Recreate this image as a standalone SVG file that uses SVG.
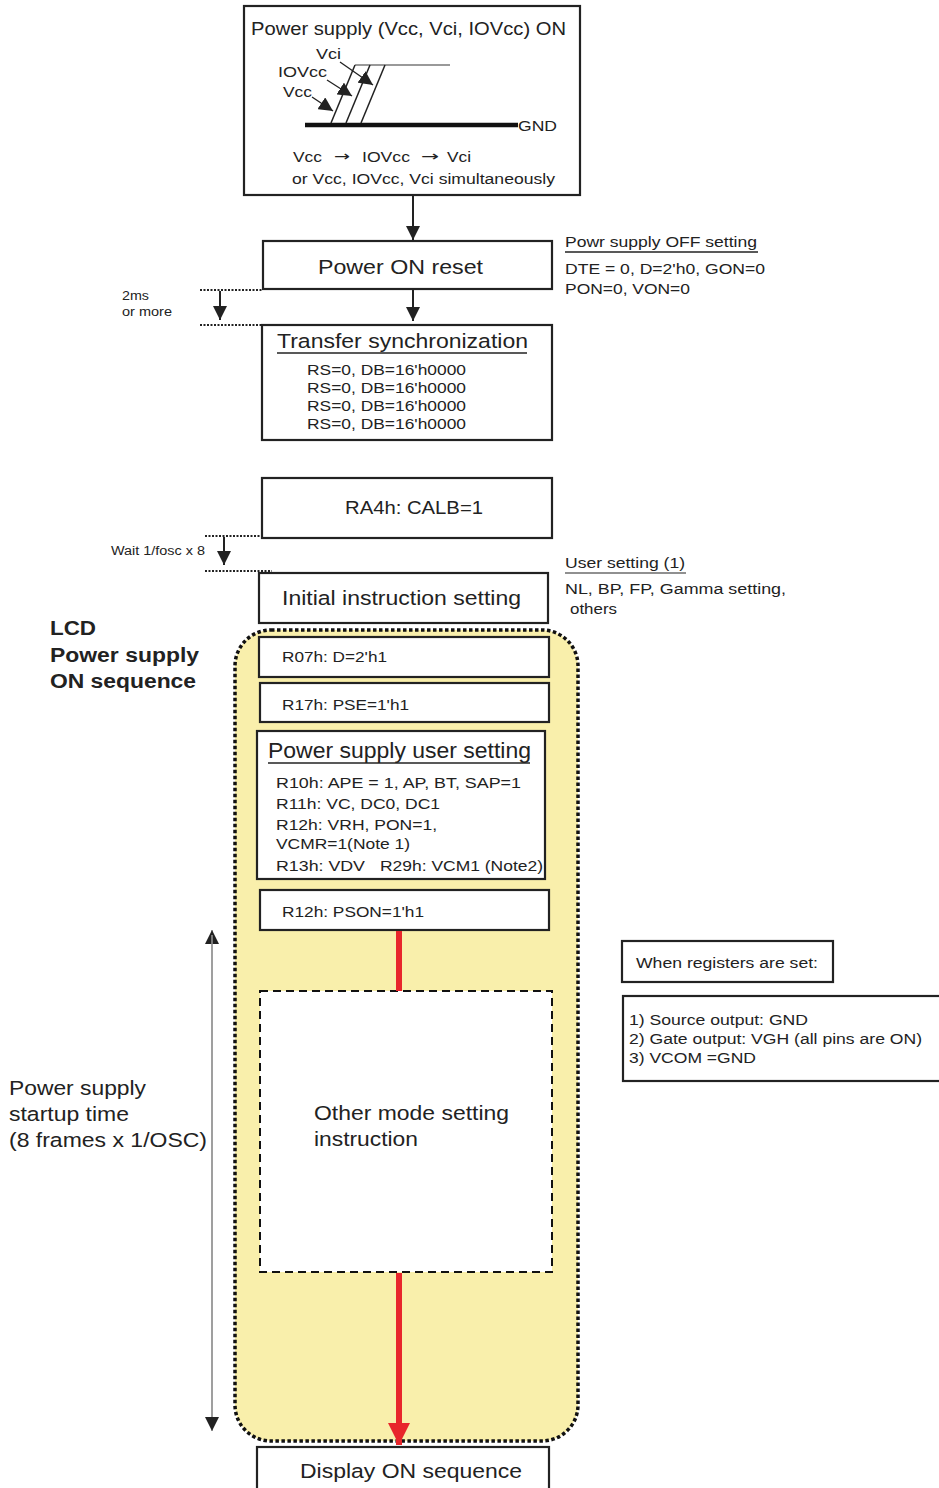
<svg xmlns="http://www.w3.org/2000/svg" width="939" height="1488" viewBox="0 0 939 1488">
<defs>
<style>
text{font-family:"Liberation Sans",Arial,sans-serif;fill:#222}
.box{fill:#fff;stroke:#222;stroke-width:2.2}
.t15{font-size:15.5px}
.t12{font-size:12px}
.t17{font-size:17.5px}
.t20{font-size:20.5px}
.arr{font-family:"DejaVu Sans",sans-serif;font-size:14px}
.dot{stroke:#222;stroke-width:2;stroke-dasharray:2 1.5;fill:none}
.con{stroke:#222;stroke-width:2;fill:none}
</style>
<marker id="ahb" viewBox="0 0 10 10" refX="10" refY="5" markerWidth="14" markerHeight="14" orient="auto" markerUnits="userSpaceOnUse">
<path d="M0,0 L10,5 L0,10 z" fill="#222"/>
</marker>
<marker id="ahr" viewBox="0 0 10 10" refX="10" refY="5" markerWidth="22" markerHeight="22" orient="auto" markerUnits="userSpaceOnUse">
<path d="M0,0 L10,5 L0,10 z" fill="#e8262b"/>
</marker>
</defs>

<g id="lcd-region">
<rect x="235" y="630" width="343" height="811" rx="36" fill="#f9efab" stroke="#111" stroke-width="3.5" stroke-dasharray="3.5 2.5"/>
</g>

<g id="power-supply-on">
<rect class="box" x="244" y="6" width="336" height="189"/>
<text class="t17" x="251" y="35" textLength="315" lengthAdjust="spacingAndGlyphs">Power supply (Vcc, Vci, IOVcc) ON</text>
<line x1="355" y1="65" x2="450" y2="65" stroke="#777" stroke-width="1.5"/>
<line x1="305" y1="125" x2="518" y2="125" stroke="#111" stroke-width="4.5"/>
<line x1="331" y1="123" x2="355" y2="65" stroke="#222" stroke-width="1.5"/>
<line x1="346" y1="123" x2="370" y2="65" stroke="#222" stroke-width="1.5"/>
<line x1="361" y1="123" x2="385" y2="65" stroke="#222" stroke-width="1.5"/>
<text class="t15" x="518" y="131" textLength="39" lengthAdjust="spacingAndGlyphs">GND</text>
<text class="t15" x="316" y="59" textLength="25" lengthAdjust="spacingAndGlyphs">Vci</text>
<text class="t15" x="278" y="77" textLength="49" lengthAdjust="spacingAndGlyphs">IOVcc</text>
<text class="t15" x="283" y="97" textLength="29" lengthAdjust="spacingAndGlyphs">Vcc</text>
<line x1="312" y1="97" x2="333" y2="111" stroke="#222" stroke-width="1.3" marker-end="url(#ahb)"/>
<line x1="327" y1="80" x2="352" y2="96" stroke="#222" stroke-width="1.3" marker-end="url(#ahb)"/>
<line x1="340" y1="62" x2="373" y2="85" stroke="#222" stroke-width="1.3" marker-end="url(#ahb)"/>
<text class="t15" x="293" y="162" textLength="29" lengthAdjust="spacingAndGlyphs">Vcc</text>
<text class="arr" x="334" y="161" textLength="16" lengthAdjust="spacingAndGlyphs">→</text>
<text class="t15" x="362" y="162" textLength="48" lengthAdjust="spacingAndGlyphs">IOVcc</text>
<text class="arr" x="421" y="161" textLength="18" lengthAdjust="spacingAndGlyphs">→</text>
<text class="t15" x="447" y="162" textLength="24" lengthAdjust="spacingAndGlyphs">Vci</text>
<text class="t15" x="292" y="184" textLength="263" lengthAdjust="spacingAndGlyphs">or Vcc, IOVcc, Vci simultaneously</text>
</g>

<g id="power-on-reset">
<rect class="box" x="263" y="241" width="289" height="48"/>
<text class="t20" x="318" y="274" textLength="165" lengthAdjust="spacingAndGlyphs">Power ON reset</text>
</g>

<g id="off-setting-note">
<text class="t15" x="565" y="247" textLength="192" lengthAdjust="spacingAndGlyphs">Powr supply OFF setting</text>
<line x1="565" y1="252" x2="758" y2="252" stroke="#222" stroke-width="1.5"/>
<text class="t15" x="565" y="274" textLength="200" lengthAdjust="spacingAndGlyphs">DTE = 0, D=2'h0, GON=0</text>
<text class="t15" x="565" y="294" textLength="125" lengthAdjust="spacingAndGlyphs">PON=0, VON=0</text>
</g>

<g id="wait-2ms">
<line class="dot" x1="200" y1="290" x2="263" y2="290"/>
<line class="dot" x1="200" y1="325" x2="262" y2="325"/>
<text class="t12" x="122" y="300" textLength="27" lengthAdjust="spacingAndGlyphs">2ms</text>
<text class="t12" x="122" y="316" textLength="50" lengthAdjust="spacingAndGlyphs">or more</text>
</g>

<g id="transfer-sync">
<rect class="box" x="262" y="325" width="290" height="115"/>
<text class="t20" x="277" y="348" textLength="251" lengthAdjust="spacingAndGlyphs">Transfer synchronization</text>
<line x1="277" y1="353" x2="527" y2="353" stroke="#222" stroke-width="1.5"/>
<text class="t15" x="307" y="375" textLength="159" lengthAdjust="spacingAndGlyphs">RS=0, DB=16'h0000</text>
<text class="t15" x="307" y="393" textLength="159" lengthAdjust="spacingAndGlyphs">RS=0, DB=16'h0000</text>
<text class="t15" x="307" y="411" textLength="159" lengthAdjust="spacingAndGlyphs">RS=0, DB=16'h0000</text>
<text class="t15" x="307" y="429" textLength="159" lengthAdjust="spacingAndGlyphs">RS=0, DB=16'h0000</text>
</g>

<g id="ra4h">
<rect class="box" x="262" y="478" width="290" height="60"/>
<text class="t17" x="345" y="514" textLength="138" lengthAdjust="spacingAndGlyphs">RA4h: CALB=1</text>
</g>

<g id="wait-fosc">
<line class="dot" x1="205" y1="536" x2="262" y2="536"/>
<line class="dot" x1="205" y1="571" x2="272" y2="571"/>
<text class="t12" x="111" y="555" textLength="94" lengthAdjust="spacingAndGlyphs">Wait 1/fosc x 8</text>
</g>

<g id="initial-instruction">
<rect class="box" x="259" y="573" width="289" height="50"/>
<text class="t20" x="282" y="605" textLength="239" lengthAdjust="spacingAndGlyphs">Initial instruction setting</text>
</g>

<g id="user-setting-note">
<text class="t15" x="565" y="568" textLength="120" lengthAdjust="spacingAndGlyphs">User setting (1)</text>
<line x1="565" y1="573" x2="686" y2="573" stroke="#222" stroke-width="1.2"/>
<text class="t15" x="565" y="594" textLength="221" lengthAdjust="spacingAndGlyphs">NL, BP, FP, Gamma setting,</text>
<text class="t15" x="570" y="614" textLength="47" lengthAdjust="spacingAndGlyphs">others</text>
</g>

<g id="lcd-label">
<text x="50" y="635" font-size="20" font-weight="bold" textLength="46" lengthAdjust="spacingAndGlyphs">LCD</text>
<text x="50" y="662" font-size="20" font-weight="bold" textLength="149" lengthAdjust="spacingAndGlyphs">Power supply</text>
<text x="50" y="688" font-size="20" font-weight="bold" textLength="146" lengthAdjust="spacingAndGlyphs">ON sequence</text>
</g>

<g id="r07h">
<rect class="box" x="259" y="637" width="290" height="40"/>
<text class="t15" x="282" y="662" textLength="105" lengthAdjust="spacingAndGlyphs">R07h: D=2'h1</text>
</g>

<g id="r17h">
<rect class="box" x="260" y="683" width="289" height="39"/>
<text class="t15" x="282" y="710" textLength="127" lengthAdjust="spacingAndGlyphs">R17h: PSE=1'h1</text>
</g>

<g id="power-user-setting">
<rect class="box" x="257" y="731" width="288" height="148"/>
<text x="268" y="758" font-size="21.5" textLength="263" lengthAdjust="spacingAndGlyphs">Power supply user setting</text>
<line x1="268" y1="763" x2="530" y2="763" stroke="#222" stroke-width="1.5"/>
<text class="t15" x="276" y="788" textLength="245" lengthAdjust="spacingAndGlyphs">R10h: APE = 1, AP, BT, SAP=1</text>
<text class="t15" x="276" y="809" textLength="164" lengthAdjust="spacingAndGlyphs">R11h: VC, DC0, DC1</text>
<text class="t15" x="276" y="830" textLength="161" lengthAdjust="spacingAndGlyphs">R12h: VRH, PON=1,</text>
<text class="t15" x="276" y="849" textLength="134" lengthAdjust="spacingAndGlyphs">VCMR=1(Note 1)</text>
<text class="t15" x="276" y="871" textLength="89" lengthAdjust="spacingAndGlyphs">R13h: VDV</text>
<text class="t15" x="380" y="871" textLength="163" lengthAdjust="spacingAndGlyphs">R29h: VCM1 (Note2)</text>
</g>

<g id="r12h-pson">
<rect class="box" x="260" y="890" width="289" height="40"/>
<text class="t15" x="282" y="917" textLength="142" lengthAdjust="spacingAndGlyphs">R12h: PSON=1'h1</text>
</g>

<g id="other-mode">
<rect x="260" y="991" width="292" height="281" fill="#fff" stroke="#111" stroke-width="2" stroke-dasharray="8 5"/>
<text class="t20" x="314" y="1120" textLength="195" lengthAdjust="spacingAndGlyphs">Other mode setting</text>
<text class="t20" x="314" y="1146" textLength="104" lengthAdjust="spacingAndGlyphs">instruction</text>
</g>

<g id="display-on">
<rect class="box" x="257" y="1447" width="292" height="45"/>
<text class="t20" x="300" y="1478" textLength="222" lengthAdjust="spacingAndGlyphs">Display ON sequence</text>
</g>

<g id="startup-time">
<text class="t20" x="9" y="1095" textLength="137" lengthAdjust="spacingAndGlyphs">Power supply</text>
<text class="t20" x="9" y="1121" textLength="120" lengthAdjust="spacingAndGlyphs">startup time</text>
<text class="t20" x="9" y="1147" textLength="198" lengthAdjust="spacingAndGlyphs">(8 frames x 1/OSC)</text>
</g>

<g id="registers-note">
<rect class="box" x="622" y="941" width="211" height="41"/>
<text class="t15" x="636" y="968" textLength="182" lengthAdjust="spacingAndGlyphs">When registers are set:</text>
</g>

<g id="outputs-note">
<rect class="box" x="623" y="996" width="320" height="85"/>
<text class="t15" x="629" y="1025" textLength="179" lengthAdjust="spacingAndGlyphs">1) Source output: GND</text>
<text class="t15" x="629" y="1044" textLength="293" lengthAdjust="spacingAndGlyphs">2) Gate output: VGH (all pins are ON)</text>
<text class="t15" x="629" y="1063" textLength="127" lengthAdjust="spacingAndGlyphs">3) VCOM =GND</text>
</g>

<g id="connectors">
<line class="con" x1="413" y1="196" x2="413" y2="240" marker-end="url(#ahb)"/>
<line class="con" x1="413" y1="290" x2="413" y2="321" marker-end="url(#ahb)"/>
<line class="con" x1="220" y1="291" x2="220" y2="320" marker-end="url(#ahb)"/>
<line class="con" x1="224" y1="537" x2="224" y2="565" marker-end="url(#ahb)"/>
<line x1="399" y1="931" x2="399" y2="991" stroke="#e8262b" stroke-width="6"/>
<line x1="399" y1="1273" x2="399" y2="1445" stroke="#e8262b" stroke-width="6" marker-end="url(#ahr)"/>
<line x1="212" y1="1425" x2="212" y2="930" stroke="#999" stroke-width="1.5" marker-end="url(#ahb)"/>
<line x1="212" y1="935" x2="212" y2="1431" stroke="#999" stroke-width="1.5" marker-end="url(#ahb)"/>
</g>
</svg>
